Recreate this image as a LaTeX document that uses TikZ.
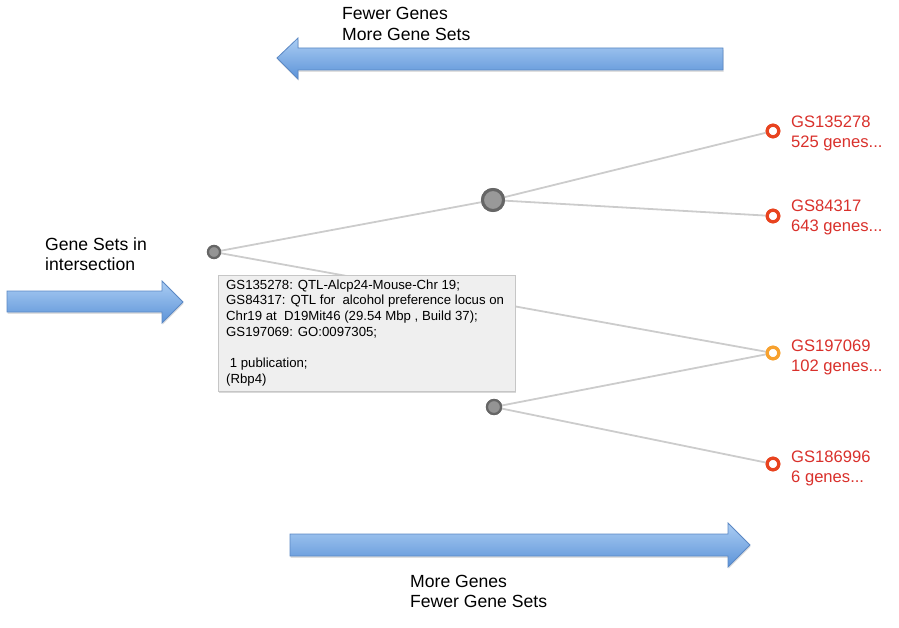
\documentclass[tikz,border=0pt]{standalone}
\usepackage{fontspec}
\setmainfont{Liberation Sans}
\usetikzlibrary{shadows}
\definecolor{edgegray}{HTML}{CCCCCC}
\definecolor{leafred}{HTML}{E8431F}
\definecolor{leaforange}{HTML}{F7A12E}
\definecolor{labelred}{HTML}{D9302B}
\definecolor{arrowtop}{HTML}{ABCDF3}
\definecolor{arrowbot}{HTML}{5C93D8}
\definecolor{arrowedge}{HTML}{5B88C4}
\definecolor{tipfill}{HTML}{EFEFEF}
\definecolor{tipedge}{HTML}{C6C6C6}
\tikzset{
  bigarrow/.style={draw=arrowedge, line width=0.8pt, top color=arrowtop, bottom color=arrowbot,
    drop shadow={shadow xshift=0.6pt, shadow yshift=-1.8pt, opacity=0.25}},
  biglabel/.style={anchor=base west, inner sep=0pt, font=\fontsize{17.6}{20}\selectfont},
  leaflabel/.style={anchor=base west, inner sep=0pt, text=labelred, font=\fontsize{16.6}{20}\selectfont},
  tiptext/.style={anchor=base west, inner sep=0pt, font=\fontsize{13.2}{15.7}\selectfont},
  edge/.style={draw=edgegray, line width=1.8pt},
  inner/.style={circle, draw=black!60, fill=black!42, line width=2.2pt, inner sep=0pt},
  leaf/.style={circle, draw=#1, fill=white, line width=3.2pt, minimum size=11.5pt, inner sep=0pt},
}
\begin{document}
\begin{tikzpicture}[x=1pt,y=-1pt]
\useasboundingbox (0,0) rectangle (899,628);
% direction arrows
\path[bigarrow] (723,48) -- (298,48) -- (298,38) -- (277,58) -- (298,79) -- (298,70) -- (723,70) -- cycle;
\path[bigarrow] (290,534) -- (728,534) -- (728,523) -- (750,545) -- (728,567) -- (728,556) -- (290,556) -- cycle;
\path[bigarrow] (7,291) -- (162,291) -- (162,281) -- (183,302) -- (162,323) -- (162,312) -- (7,312) -- cycle;
% arrow labels
\node[biglabel] (t1) at (342,19.5) {Fewer Genes};
\node[biglabel] (t2) at (342,41) {More Gene Sets};
\node[biglabel] (b1) at (410,587) {More Genes};
\node[biglabel] (b2) at (410,607) {Fewer Gene Sets};
\node[biglabel] (g1) at (45,251) {Gene Sets in};
\node[biglabel] (g2) at (45,271) {intersection};
% tree nodes
\node[inner, minimum size=12pt] (root) at (214,252) {};
\node[inner, minimum size=21pt, line width=3pt, fill=black!40] (n1) at (493,200) {};
\node[inner, minimum size=14pt] (n2) at (494,407) {};
\node[leaf=leafred] (l1) at (773,131) {};
\node[leaf=leafred] (l2) at (773,216) {};
\node[leaf=leaforange] (l3) at (773,353) {};
\node[leaf=leafred] (l4) at (773,464) {};
% edges
\draw[edge] (root.center) -- (n1);
\draw[edge] (root.center) -- (l3.center);
\draw[edge] (n1) -- (l1);
\draw[edge] (n1) -- (l2);
\draw[edge] (n2) -- (l3);
\draw[edge] (n2) -- (l4);
% redraw nodes on top of edges
\node[inner, minimum size=12pt] at (root) {};
\node[inner, minimum size=21pt, line width=3pt, fill=black!40] at (n1) {};
\node[inner, minimum size=14pt] at (n2) {};
\node[leaf=leafred] at (l1) {};
\node[leaf=leafred] at (l2) {};
\node[leaf=leaforange] at (l3) {};
\node[leaf=leafred] at (l4) {};
% leaf labels
\node[leaflabel] (a1) at (791,127.5) {GS135278};
\node[leaflabel] (a2) at (791,148) {525 genes...};
\node[leaflabel] (c1) at (791,212) {GS84317};
\node[leaflabel] (c2) at (791,232) {643 genes...};
\node[leaflabel] (d1) at (791,351) {GS197069};
\node[leaflabel] (d2) at (791,371) {102 genes...};
\node[leaflabel] (e1) at (791,462) {GS186996};
\node[leaflabel] (e2) at (791,482) {6 genes...};
% tooltip
\node[draw=tipedge, fill=tipfill, line width=0.6pt, rectangle, minimum width=297pt, minimum height=116pt, inner sep=0pt, anchor=north west,
  drop shadow={shadow xshift=0.8pt, shadow yshift=-1.5pt, opacity=0.3}] (tip) at (218,275) {};
\node[tiptext] (p1) at (226,289.3) {GS135278: QTL-Alcp24-Mouse-Chr 19;};
\node[tiptext] (p2) at (226,305) {GS84317: QTL for\ \ alcohol preference locus on};
\node[tiptext] (p3) at (226,320.7) {Chr19 at\ \ D19Mit46 (29.54 Mbp , Build 37);};
\node[tiptext] (p4) at (226,336.4) {GS197069: GO:0097305;};
\node[tiptext] (p5) at (226,367.8) {\ 1 publication;};
\node[tiptext] (p6) at (226,383.5) {(Rbp4)};
\end{tikzpicture}
\end{document}
